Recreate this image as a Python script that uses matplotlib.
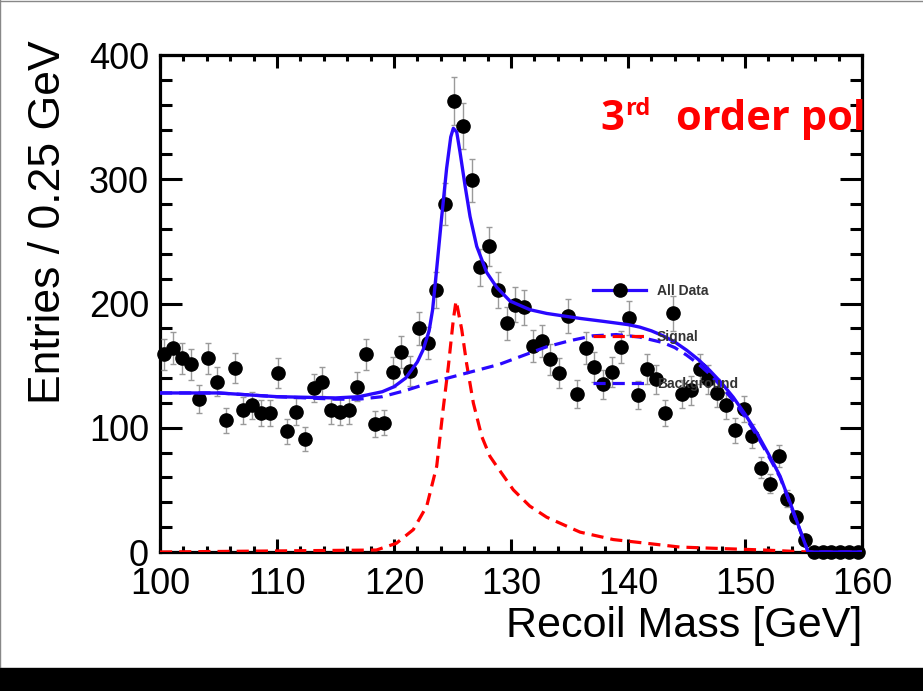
import matplotlib
matplotlib.use("Agg")
import matplotlib.pyplot as plt
from matplotlib.lines import Line2D
from matplotlib.patches import Rectangle
from matplotlib.ticker import MultipleLocator
import numpy as np

plt.rcParams['font.family'] = ['Liberation Sans', 'DejaVu Sans']

# histogram binning: 80 bins between 100 and 160 GeV
BIN_LO, BIN_HI, NBINS = 100.0, 160.0, 80

# entries per bin
counts = [159, 164, 156, 151, 123, 156, 137, 106, 148, 114,
          118, 112, 112, 144, 97, 113, 91, 132, 137, 114,
          113, 114, 133, 159, 103, 104, 145, 161, 146, 180,
          168, 211, 280, 363, 343, 299, 229, 246, 211, 184,
          199, 197, 166, 170, 155, 144, 190, 127, 164, 149,
          135, 145, 165, 188, 126, 147, 139, 112, 192, 127,
          130, 147, 139, 128, 118, 98, 115, 93, 68, 55,
          77, 43, 28, 10, 0, 0, 0, 0, 0, 0]

# fitted curves
total_x = [100, 105, 110, 115, 117, 119, 120, 121, 122, 122.5, 123, 123.3, 123.65,
           124.08, 124.5, 124.85, 125.07, 125.36, 125.64, 126.07, 126.5, 127.07,
           127.92, 128.78, 129.91, 131.62, 133.05, 135.9, 138, 140, 141, 142, 143,
           144, 145, 146, 147, 148, 149, 150, 151, 152, 153, 154, 155, 155.4, 160]
total_y = [128, 128, 125, 124, 125, 129, 133, 140, 153, 163, 178, 195, 228,
           270, 309, 334, 341, 338, 322, 295, 270, 246,
           225, 213, 202, 195, 192, 188, 185.5, 183, 181, 178, 174,
           169, 162.5, 155, 146, 136, 124.5, 111, 96, 79, 61, 36, 10, 0, 0]

bkg_x = [100, 105, 110, 115, 117, 119, 121, 123, 125, 127, 129, 131, 133, 135, 137,
         139, 141, 143, 144, 145, 146, 147, 148, 149, 150, 151, 152, 153, 154, 155,
         155.4, 160]
bkg_y = [128, 128, 125, 123, 123, 125, 130, 136, 141, 146, 151, 158, 165, 170, 174,
         175, 173, 168.5, 164.5, 158.5, 151.5, 143, 133, 122, 109, 94, 77.5, 60, 35, 10,
         0, 0]

sig_x = [100, 118.5, 120.2, 121.65, 122.8, 123.65, 124.2, 124.64, 125.07, 125.3, 125.36,
         125.79, 126.2, 126.78, 127.5, 128.2, 128.78, 130.2, 131.6, 133.05, 135.9,
         138.75, 141.6, 144.4, 147.3, 151.6, 155.4, 160]
sig_y = [0, 1.6, 7, 18, 37, 69, 115, 149, 187, 202, 200,
         179, 152, 120, 93, 77, 69, 50, 37, 28, 16,
         10, 7, 4, 3, 1.6, 0, 0]

BLUE = '#2a08ff'
RED = '#ff0000'
DASH = (0, (3.8, 2.2))

W, H = 923, 691
fig = plt.figure(figsize=(W / 100, H / 100), dpi=100)
ax = fig.add_axes([160 / W, 1 - 552 / H, 702 / W, 497 / H])

edges = np.linspace(BIN_LO, BIN_HI, NBINS + 1)
centers = 0.5 * (edges[:-1] + edges[1:])
counts = np.array(counts, dtype=float)

ax.errorbar(centers, counts, yerr=np.sqrt(counts), fmt='o', color='black', ms=9.5,
            ecolor='#9a9a9a', elinewidth=1, capsize=2, capthick=1,
            clip_on=False, zorder=3)

ax.plot(sig_x, sig_y, color=RED, lw=2.3, ls=DASH, zorder=4)
ax.plot(bkg_x, bkg_y, color=BLUE, lw=2.3, ls=DASH, zorder=4)
ax.plot(total_x, total_y, color=BLUE, lw=2.4, zorder=5)

ax.set_xlim(100, 160)
ax.set_ylim(0, 400)
ax.xaxis.set_major_locator(MultipleLocator(10))
ax.xaxis.set_minor_locator(MultipleLocator(2))
ax.yaxis.set_major_locator(MultipleLocator(100))
ax.yaxis.set_minor_locator(MultipleLocator(20))

for s in ax.spines.values():
    s.set_linewidth(2.3)
ax.tick_params(which='both', direction='in', top=True, right=True, width=2.2)
ax.tick_params(axis='x', which='major', length=9.5, labelsize=26, pad=11)
ax.tick_params(axis='x', which='minor', length=4.5)
ax.tick_params(axis='y', which='major', length=16, labelsize=26, pad=8)
ax.tick_params(axis='y', which='minor', length=8.5)

ax.set_xlabel('Recoil Mass [GeV]', fontsize=31, loc='right', labelpad=3)
ax.set_ylabel('Entries / 0.25 GeV', fontsize=32, loc='top')
ax.yaxis.set_label_coords(-0.13, 1.03)

handles = [Line2D([], [], color=BLUE, lw=2.3, marker='o', mfc='black', mec='black', ms=9.5),
           Line2D([], [], color=RED, lw=2.3, ls=DASH),
           Line2D([], [], color=BLUE, lw=2.3, ls=DASH)]
leg = ax.legend(handles, ['All Data', 'Signal', 'Background'], loc='upper left',
                bbox_to_anchor=(0.617, 0.54), frameon=False, borderpad=0, borderaxespad=0,
                handlelength=3.8, handletextpad=0.8, labelspacing=2.35,
                prop={'size': 10, 'weight': 'bold'})
for t in leg.get_texts():
    t.set_color('#333333')

# red annotation on top of the plot
red_font = dict(color='red', fontweight='bold', family='Open Sans', va='baseline')
fig.text(600 / W, 1 - 130 / H, '3', fontsize=30, **red_font)
fig.text(625 / W, 1 - 115 / H, 'rd', fontsize=17, **red_font)
fig.text(676 / W, 1 - 130 / H, 'order pol', fontsize=30, **red_font)

# slide frame: black band at the bottom, thin grey border
fig.patches.append(Rectangle((0, 0), 1, 23 / H, transform=fig.transFigure,
                             color='black', zorder=10))
fig.lines.append(Line2D([0.0005, 0.0005], [23 / H, 1], transform=fig.transFigure,
                        color='#888888', lw=1))
fig.lines.append(Line2D([0, 1], [0.999, 0.999], transform=fig.transFigure,
                        color='#888888', lw=1))

fig.savefig('out.png', dpi=100)
